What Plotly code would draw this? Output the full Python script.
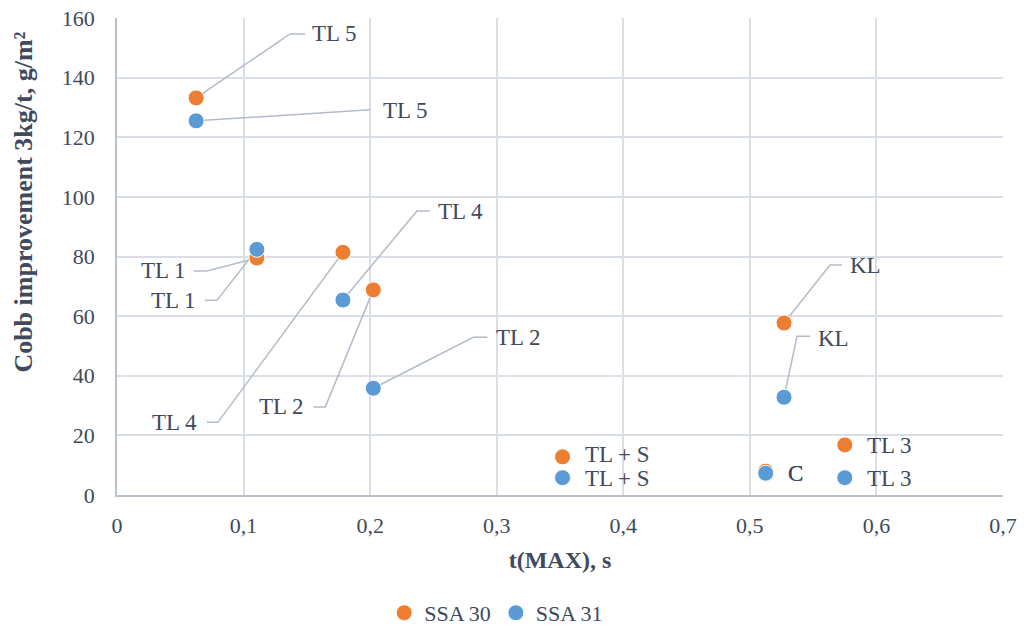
import plotly.graph_objects as go

# Measurements: t(MAX) in seconds vs Cobb improvement at 3 kg/t (g/m²)
labels_30 = ["TL 5", "TL 1", "TL 4", "TL 2", "KL", "TL + S", "C", "TL 3"]
t_max_30 = [0.0625, 0.1105, 0.1785, 0.2025, 0.527, 0.352, 0.5125, 0.575]
cobb_30 = [133.2, 79.5, 81.4, 68.8, 57.7, 12.8, 8.0, 16.8]

labels_31 = ["TL 5", "TL 1", "TL 4", "TL 2", "KL", "TL + S", "C", "TL 3"]
t_max_31 = [0.0625, 0.1105, 0.1785, 0.2025, 0.527, 0.352, 0.5125, 0.575]
cobb_31 = [125.5, 82.4, 65.4, 35.8, 32.8, 5.8, 7.3, 5.8]

# Label placement in screen pixels relative to each marker:
# (elbow dx, elbow dy, tail length, text dx, text dy, leader line drawn?)
place_30 = [
    (94, -64, 15, 114, -64, True),
    (-50, 13, -13, -69, 13, True),
    (-125, 170, -11, -144, 170, True),
    (-48, 117, -12, -67, 117, True),
    (46, -58, 12, 64, -57, True),
    (0, 0, 0, 20, -2, False),
    (0, 0, 0, 20, 2, False),
    (0, 0, 0, 20, 1, False),
]
place_31 = [
    (174, -11, 0, 185, -10, True),
    (-40, 51, -12, -59, 51, True),
    (74, -89, 13, 93, -89, True),
    (100, -51, 14, 121, -51, True),
    (13, -61, 13, 32, -59, True),
    (0, 0, 0, 20, 1, False),
    (0, 0, 0, 20, 0, False),
    (0, 0, 0, 20, 1, False),
]

ORANGE = "#ED7D31"
BLUE = "#5B9BD5"
TEXT = "#404a5c"
GRID = "#d9dee7"
LEADER = "#b3bcc8"
FONT = "Liberation Serif, Times New Roman, serif"

W, H = 1029, 628
M = dict(l=117, r=26, t=18, b=133)
X_RANGE = [0, 0.7]
Y_RANGE = [0, 160]
plot_w = W - M["l"] - M["r"]
plot_h = H - M["t"] - M["b"]
sx = (X_RANGE[1] - X_RANGE[0]) / plot_w
sy = (Y_RANGE[1] - Y_RANGE[0]) / plot_h

fig = go.Figure()

annotations = []
for xs, ys, labs, place in [(t_max_30, cobb_30, labels_30, place_30),
                            (t_max_31, cobb_31, labels_31, place_31)]:
    for x, y, lab, (ex, ey, tail, tx, ty, leader) in zip(xs, ys, labs, place):
        if leader:
            lx = [x, x + ex * sx, x + (ex + tail) * sx]
            ly = [y, y - ey * sy, y - ey * sy]
            fig.add_trace(go.Scatter(
                x=lx, y=ly, mode="lines",
                line=dict(color=LEADER, width=1.5),
                showlegend=False, hoverinfo="skip",
            ))
        annotations.append(dict(
            x=x, y=y, xref="x", yref="y", text=lab, showarrow=False,
            xshift=tx, yshift=-ty,
            xanchor="left" if tx > 0 else "right", yanchor="middle",
            font=dict(family=FONT, size=23, color=TEXT),
        ))

# Vertical axis title, placed toward the top of the axis
annotations.append(dict(
    text="<b>Cobb improvement 3kg/t, g/m²</b>", textangle=-90,
    xref="paper", yref="paper", x=-0.105, y=0.615,
    xanchor="center", yanchor="middle", showarrow=False,
    font=dict(family=FONT, size=26, color=TEXT),
))

fig.add_trace(go.Scatter(
    x=t_max_30, y=cobb_30, mode="markers", name="SSA 30",
    marker=dict(color=ORANGE, size=16, line=dict(color="white", width=1)),
))
fig.add_trace(go.Scatter(
    x=t_max_31, y=cobb_31, mode="markers", name="SSA 31",
    marker=dict(color=BLUE, size=16, line=dict(color="white", width=1)),
))

fig.update_layout(
    width=W, height=H,
    margin=dict(M, autoexpand=False),
    paper_bgcolor="white",
    plot_bgcolor="white",
    separators=", ",
    font=dict(family=FONT, size=22, color=TEXT),
    annotations=annotations,
    showlegend=True,
    legend=dict(
        orientation="h", x=0.428, xanchor="center",
        yref="container", y=0.024, yanchor="middle",
        font=dict(family=FONT, size=22, color=TEXT),
        itemwidth=30, tracegroupgap=0,
    ),
    xaxis=dict(
        range=X_RANGE, dtick=0.1, tick0=0,
        showgrid=True, gridcolor=GRID, gridwidth=1.5,
        zeroline=False, showline=True, linecolor="#b8c0cc", linewidth=1.5,
        ticks="", ticklabelstandoff=10, tickfont=dict(family=FONT, size=22, color=TEXT),
        automargin=False,
        title=dict(text="<b>t(MAX), s</b>", font=dict(family=FONT, size=24, color=TEXT), standoff=14),
    ),
    yaxis=dict(
        range=Y_RANGE, dtick=20, tick0=0,
        showgrid=True, gridcolor=GRID, gridwidth=1.5,
        zeroline=False, showline=True, linecolor="#b8c0cc", linewidth=1.5,
        ticks="", ticklabelstandoff=16, automargin=False,
        tickfont=dict(family=FONT, size=22, color=TEXT),
    ),
)

fig.write_html("out.html")
